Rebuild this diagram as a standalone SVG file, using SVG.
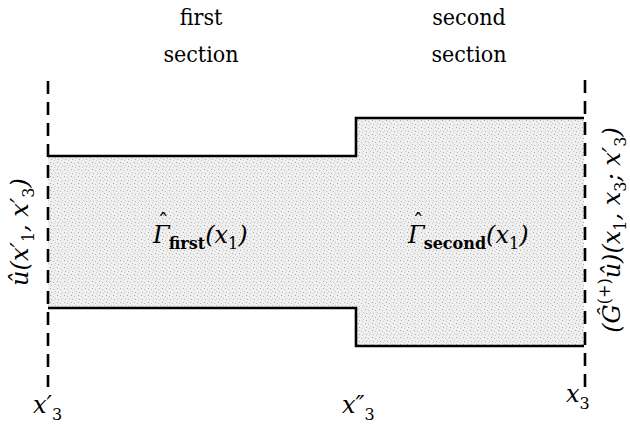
<svg xmlns="http://www.w3.org/2000/svg" width="630" height="429" viewBox="0 0 630 429">
<defs>
<style>
.t{font-family:"DejaVu Serif Condensed","DejaVu Serif";font-size:23px;fill:#000}
.m{font-family:"DejaVu Serif";font-style:italic;font-size:24px;fill:#000}
.h{font-size:22px;font-style:normal}
.s{font-size:16px;font-style:normal}
.b{font-size:16px;font-style:normal;font-weight:bold}
.dash{stroke:#000;stroke-width:2.6;stroke-dasharray:13 8;fill:none}
.edge{stroke:#000;stroke-width:2.6;fill:none;stroke-linejoin:miter}
</style>
<pattern id="stip" width="7" height="7" patternUnits="userSpaceOnUse">
<rect width="7" height="7" fill="#efefef"/>
<rect x="1" y="1" width="1" height="1" fill="#a8a8a8"/>
<rect x="4" y="2" width="1" height="1" fill="#bcbcbc"/>
<rect x="2" y="5" width="1" height="1" fill="#b0b0b0"/>
<rect x="6" y="4" width="1" height="1" fill="#c4c4c4"/>
<rect x="5" y="6" width="1" height="1" fill="#d0d0d0"/>
</pattern>
</defs>
<g id="channel">
<path d="M48,156 H356 V118 H584 V346 H356 V308 H48 Z" fill="url(#stip)"/>
</g>
<g id="connectors">
<polyline class="edge" points="48,156 356,156 356,118 584,118"/>
<polyline class="edge" points="48,308 356,308 356,346 584,346"/>
<line class="dash" x1="48" y1="81" x2="48" y2="387"/>
<line class="dash" x1="585" y1="80" x2="585" y2="387"/>
</g>
<g id="first-section">
<text class="t" x="201" y="25" text-anchor="middle">first</text>
<text class="t" x="201" y="62" text-anchor="middle">section</text>
<text class="m" x="153" y="243">Γ<tspan class="h" dx="-12" dy="-13">ˆ</tspan><tspan class="b" dx="0" dy="19">first</tspan><tspan dy="-6">(x</tspan><tspan class="s" dy="6">1</tspan><tspan dy="-6">)</tspan></text>
</g>
<g id="second-section">
<text class="t" x="469" y="25" text-anchor="middle">second</text>
<text class="t" x="469" y="62" text-anchor="middle">section</text>
<text class="m" x="408" y="243">Γ<tspan class="h" dx="-12" dy="-13">ˆ</tspan><tspan class="b" dx="0" dy="19">second</tspan><tspan dy="-6">(x</tspan><tspan class="s" dy="6">1</tspan><tspan dy="-6">)</tspan></text>
</g>
<g id="left-label">
<text class="m" transform="translate(28,232) rotate(-90)" text-anchor="middle">û(x′<tspan class="s" dy="6">1</tspan><tspan dy="-6">, x′</tspan><tspan class="s" dy="6">3</tspan><tspan dy="-6">)</tspan></text>
</g>
<g id="right-label">
<text class="m" transform="translate(620,230) rotate(-90)" text-anchor="middle">(Ĝ<tspan class="s" dy="-10">(+)</tspan><tspan dy="10">û)(x</tspan><tspan class="s" dy="6">1</tspan><tspan dy="-6">, x</tspan><tspan class="s" dy="6">3</tspan><tspan dy="-6">; x′</tspan><tspan class="s" dy="6">3</tspan><tspan dy="-6">)</tspan></text>
</g>
<g id="axis-labels">
<text class="m" x="33" y="413">x′<tspan class="s" dy="7">3</tspan></text>
<text class="m" x="342" y="413">x″<tspan class="s" dy="7">3</tspan></text>
<text class="m" x="566" y="402">x<tspan class="s" dy="7">3</tspan></text>
</g>
</svg>
